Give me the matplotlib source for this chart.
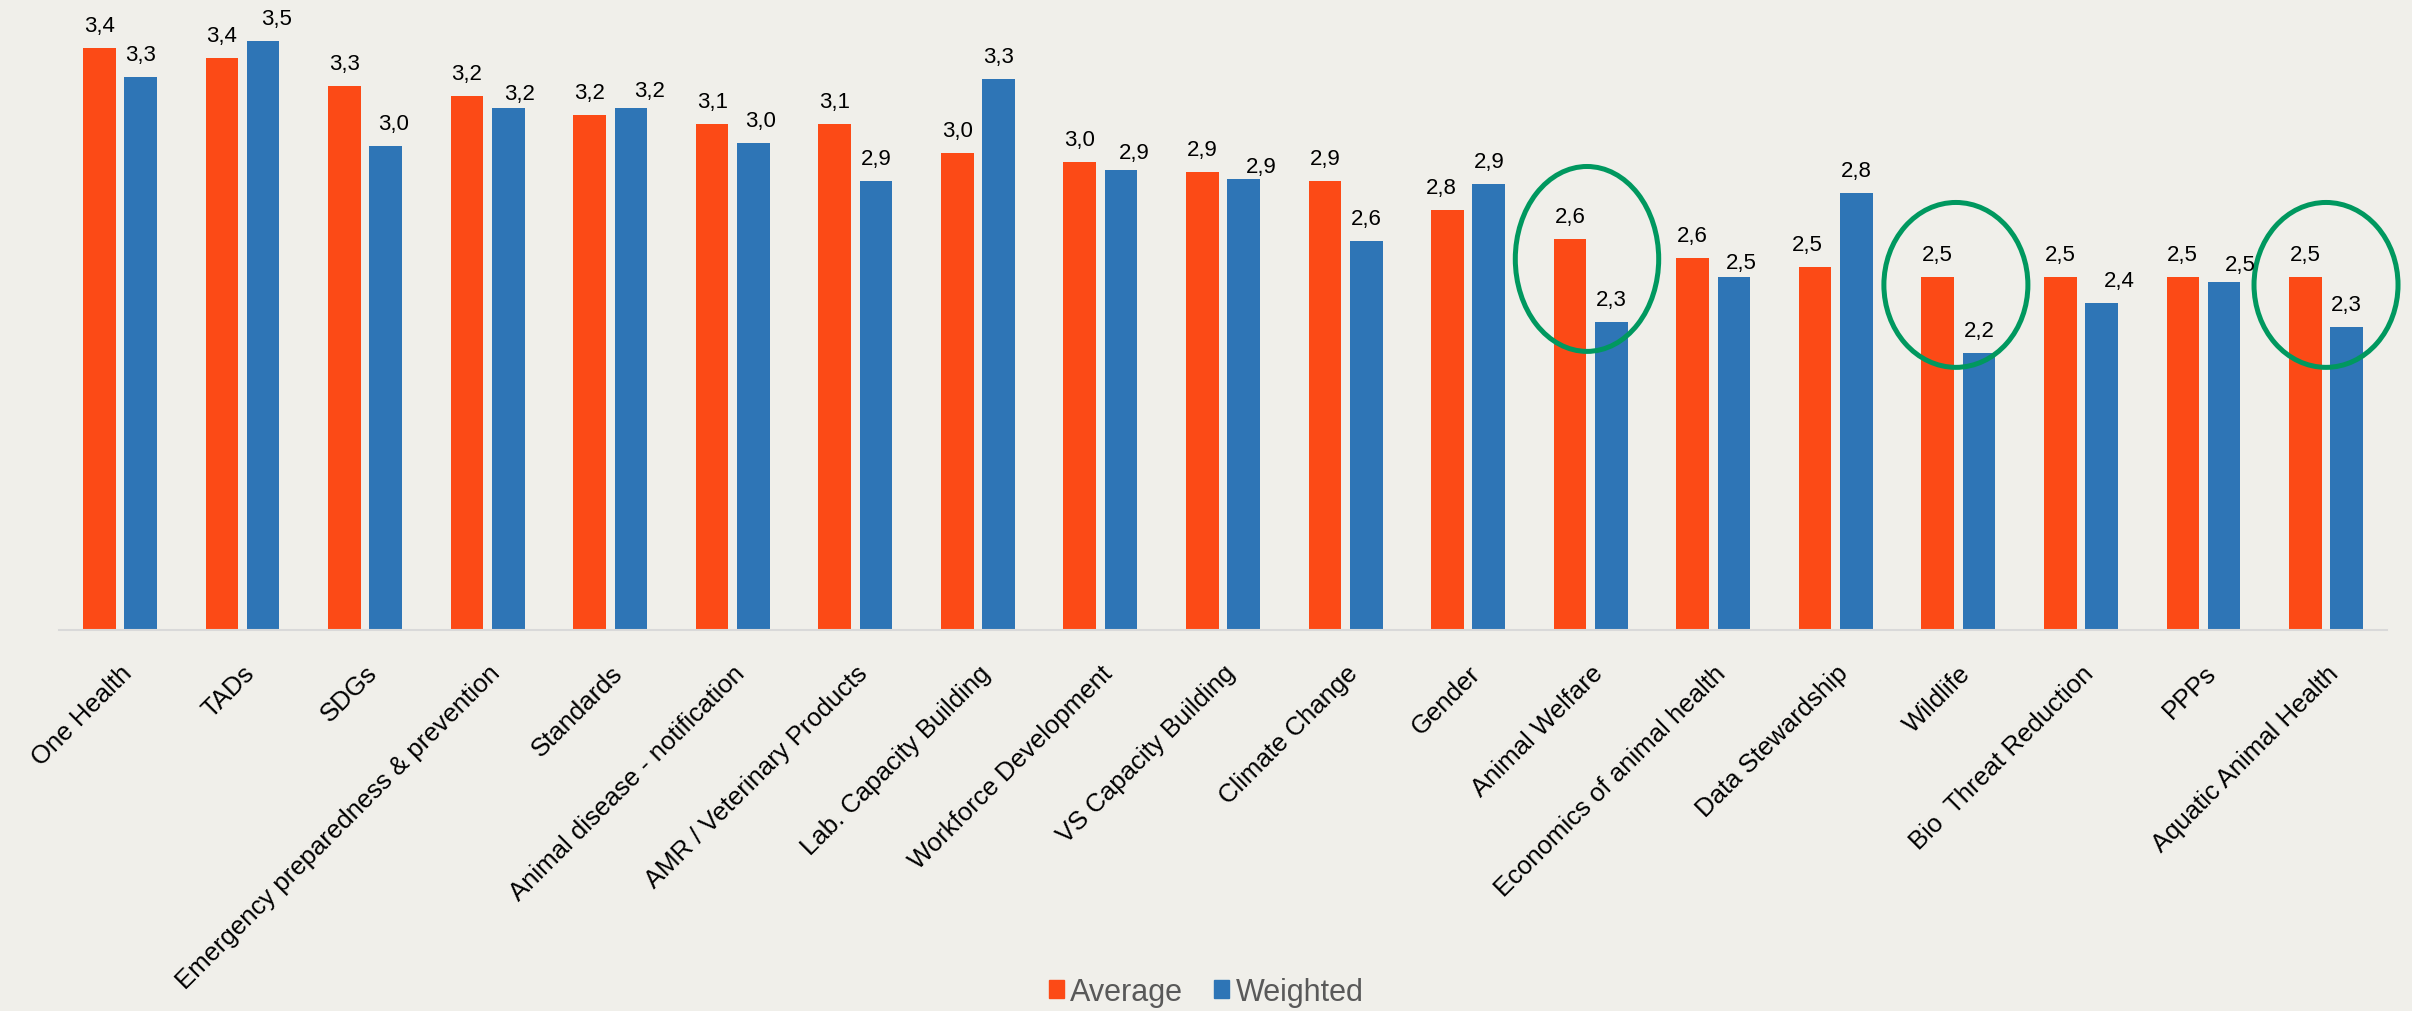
import matplotlib
matplotlib.use("Agg")
from matplotlib import pyplot as plt
from matplotlib.patches import Ellipse, Patch
from matplotlib.transforms import ScaledTranslation
import numpy as np

plt.rcParams['font.family'] = ['Liberation Sans', 'DejaVu Sans']

categories = ["One Health", "TADs", "SDGs", "Emergency preparedness & prevention",
              "Standards", "Animal disease - notification", "AMR / Veterinary Products",
              "Lab. Capacity Building", "Workforce Development", "VS Capacity Building",
              "Climate Change", "Gender", "Animal Welfare", "Economics of animal health",
              "Data Stewardship", "Wildlife", "Bio  Threat Reduction", "PPPs",
              "Aquatic Animal Health"]
average = [3.44, 3.40, 3.28, 3.24, 3.16, 3.12, 3.12, 3.00, 2.96, 2.92,
           2.88, 2.76, 2.64, 2.56, 2.52, 2.48, 2.48, 2.48, 2.48]
weighted = [3.32, 3.47, 3.03, 3.19, 3.19, 3.04, 2.88, 3.31, 2.93, 2.89,
            2.63, 2.87, 2.29, 2.48, 2.83, 2.16, 2.37, 2.46, 2.27]

# label nudges in pixels (dx, dy), as placed in the original
avg_nudge = {11: (-6, 0), 14: (-8, 0)}
w_nudge = {1: (13, 0), 2: (8, 0), 3: (11, -8), 4: (19, -5), 5: (7, 0), 8: (13, -5),
           9: (18, -10), 13: (7, -8), 16: (18, 0), 17: (16, -5)}

# highlighted categories: (x centre, y centre, width, height)
circles = [(11.97, 2.555, 1.17, 0.776), (14.98, 2.446, 1.175, 0.692), (18.0, 2.446, 1.175, 0.692)]

bg = "#F0EFEA"
orange = "#FC4A16"
blue = "#2E75B6"
green = "#00985F"

W, H = 2412, 1012
fig = plt.figure(figsize=(W / 100, H / 100), dpi=100, facecolor=bg)
ax = fig.add_axes([58.7 / W, 1 - 630.5 / H, 2328.6 / W, 630.5 / H])
ax.set_facecolor(bg)

x = np.arange(len(categories))
bw = 0.266
off = 0.1685
ax.bar(x - off, average, bw, color=orange, label="Average")
ax.bar(x + off, weighted, bw, color=blue, label="Weighted")

ax.set_xlim(-0.5, len(categories) - 0.5)
ax.set_ylim(1, 1 + 630.5 / 238.3)

for i in range(len(categories)):
    for vals, xpos, nud in ((average, x[i] - off, avg_nudge), (weighted, x[i] + off, w_nudge)):
        dx, dy = nud.get(i, (0, 0))
        ax.annotate(f"{vals[i]:.1f}".replace(".", ","), xy=(xpos, vals[i]),
                    xytext=(dx, 17 + dy), textcoords="offset pixels",
                    ha="center", va="baseline", fontsize=16, color="black")

for xc, yc, w, h in circles:
    ax.add_patch(Ellipse((xc, yc), w, h, fill=False, edgecolor=green, lw=3.6,
                         clip_on=False))

# category labels, rotated, right end under each group
lab_tr = ax.get_xaxis_transform() + ScaledTranslation(0, -31 / 100, fig.dpi_scale_trans)
for i, cat in enumerate(categories):
    ax.text(x[i], 0, cat, transform=lab_tr, rotation=45, ha="right", va="top",
            rotation_mode="anchor", fontsize=18.5, color="black")

ax.set_xticks([])
ax.set_yticks([])
for s in ["top", "right", "left"]:
    ax.spines[s].set_visible(False)
ax.spines["bottom"].set_color("#D9D9D9")
ax.spines["bottom"].set_linewidth(1.5)

handles = [Patch(color=orange, label="Average"), Patch(color=blue, label="Weighted")]
fig.legend(handles=handles, loc="center", bbox_to_anchor=(0.5, 1 - 993 / H), ncol=2,
           frameon=False, fontsize=22, labelcolor="#595959", handlelength=0.51,
           handleheight=0.51, handletextpad=0.2, columnspacing=1.0)

fig.savefig("out.png", dpi=100, facecolor=bg)
